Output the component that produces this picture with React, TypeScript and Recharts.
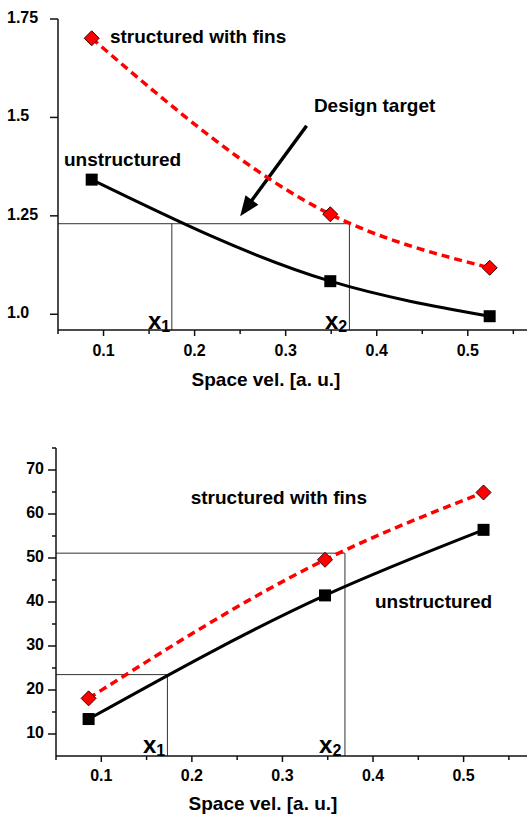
import React from 'react';
import { LineChart, Line, XAxis, YAxis, ReferenceLine, ReferenceDot } from 'recharts';

const FONT = '"Liberation Sans", Arial, sans-serif';
const AXIS = '#111';

// shared x axis
const xTicks = [0.05, 0.1, 0.15, 0.2, 0.25, 0.3, 0.35, 0.4, 0.45, 0.5, 0.55];

// top panel
const topX = [0.087, 0.349, 0.524];
const topFins = [1.701, 1.254, 1.118];
const topUnstructured = [1.342, 1.084, 0.995];
const topYTicks = [1.0, 1.25, 1.5, 1.75];
const topYLabels = ['1.0', '1.25', '1.5', '1.75'];
const topTarget = 1.23;
const topX1 = 0.175;
const topX2 = 0.37;

// bottom panel
const botX = [0.086, 0.347, 0.522];
const botFins = [18.1, 49.6, 64.9];
const botUnstructured = [13.4, 41.5, 56.4];
const botYTicks = [10, 15, 20, 25, 30, 35, 40, 45, 50, 55, 60, 65, 70, 75];
const botLow = 23.5;
const botHigh = 51.1;
const botX1 = 0.173;
const botX2 = 0.369;

const toPoints = (xs: number[], ys: number[]) => xs.map((x, i) => ({ x, y: ys[i] }));

const isMajorX = (v: number) => Math.abs(v * 10 - Math.round(v * 10)) < 1e-6;

const XTick = (props: any) => {
  const { x, y, payload, labelDy } = props;
  const major = isMajorX(payload.value);
  return (
    <g>
      <line x1={x} y1={y} x2={x} y2={y + (major ? 6 : 4)} stroke={AXIS} strokeWidth={1.5} />
      {major && (
        <text x={x} y={y + labelDy} textAnchor="middle" fontFamily={FONT} fontWeight="bold" fontSize={16} fill="#000">
          {payload.value.toFixed(1)}
        </text>
      )}
    </g>
  );
};

const YTick = (props: any) => {
  const { x, y, payload, labels, ticks, majors, anchor, dx } = props;
  const v = payload.value;
  const idx = ticks.indexOf(v);
  const major = majors(v);
  return (
    <g>
      <line x1={x} y1={y} x2={x - (major ? 8 : 4)} y2={y} stroke={AXIS} strokeWidth={1.5} />
      {major && (
        <text x={x + dx} y={y + 4} textAnchor={anchor} fontFamily={FONT} fontWeight="bold" fontSize={16} fill="#000">
          {labels ? labels[idx] : String(v)}
        </text>
      )}
    </g>
  );
};

const Diamond = (props: any) => {
  const { cx, cy, index } = props;
  const s = 7.5;
  return (
    <polygon
      key={`d-${index}`}
      points={`${cx},${cy - s} ${cx + s},${cy} ${cx},${cy + s} ${cx - s},${cy}`}
      fill="#ff0000"
      stroke="#3a0000"
      strokeWidth={1}
    />
  );
};

const Square = (props: any) => {
  const { cx, cy, index } = props;
  return <rect key={`s-${index}`} x={cx - 6} y={cy - 6} width={12} height={12} fill="#000" />;
};

const Arrow = (p: any) => {
  const { x1, y1, x2, y2 } = p;
  const dx = x2 - x1;
  const dy = y2 - y1;
  const len = Math.hypot(dx, dy);
  const ux = dx / len;
  const uy = dy / len;
  const head = 20;
  const half = 8;
  const bx = x2 - ux * head;
  const by = y2 - uy * head;
  return (
    <g>
      <line x1={x1} y1={y1} x2={bx + ux * 2} y2={by + uy * 2} stroke="#000" strokeWidth={3.5} />
      <polygon points={`${x2},${y2} ${bx - uy * half},${by + ux * half} ${bx + uy * half},${by - ux * half}`} fill="#000" />
    </g>
  );
};

const note = (text: string) => (p: any) => (
  <text x={p.viewBox.x} y={p.viewBox.y} fontFamily={FONT} fontWeight="bold" fontSize={19} fill="#000">
    {text}
  </text>
);

const sub = (n: string) => (p: any) => (
  <text x={p.viewBox.x} y={p.viewBox.y} fontFamily={FONT} fontWeight="bold" fill="#000">
    <tspan fontSize={24}>x</tspan>
    <tspan fontSize={16} dy={3}>{n}</tspan>
  </text>
);

const axisTitle = (dx: number, dy: number) => (p: any) => (
  <text x={p.viewBox.x + dx} y={p.viewBox.y + dy} textAnchor="middle" fontFamily={FONT} fontWeight="bold" fontSize={19} fill="#000">
    Space vel. [a. u.]
  </text>
);

const thin = { stroke: '#333', strokeWidth: 1 };

export default function App() {
  return (
    <div style={{ position: 'absolute', left: 0, top: 0, width: 527, height: 814, background: '#fff' }}>
      <div style={{ position: 'absolute', left: 0, top: 0 }}>
        <LineChart width={527} height={400} margin={{ top: 19, right: 0, bottom: 0, left: 0 }}>
          <XAxis
            dataKey="x"
            type="number"
            domain={[0.05, 0.565]}
            ticks={xTicks}
            interval={0}
            tickSize={0}
            tickMargin={0}
            tickLine={false}
            height={70}
            axisLine={{ stroke: AXIS, strokeWidth: 1.5 }}
            tick={<XTick labelDy={26} />}
            label={axisTitle(208, 56)}
          />
          <YAxis
            type="number"
            domain={[0.96, 1.75]}
            allowDataOverflow
            ticks={topYTicks}
            interval={0}
            tickSize={0}
            tickMargin={0}
            tickLine={false}
            width={58}
            axisLine={{ stroke: AXIS, strokeWidth: 1.5 }}
            tick={<YTick labels={topYLabels} ticks={topYTicks} majors={() => true} anchor="start" dx={-51} />}
          />
          <ReferenceLine segment={[{ x: 0.05, y: topTarget }, { x: topX2, y: topTarget }]} {...thin} />
          <ReferenceLine segment={[{ x: topX1, y: 0.96 }, { x: topX1, y: topTarget }]} {...thin} />
          <ReferenceLine segment={[{ x: topX2, y: 0.96 }, { x: topX2, y: topTarget }]} {...thin} />
          <ReferenceLine segment={[{ x: 0.323, y: 1.479 }, { x: 0.25, y: 1.249 }]} shape={Arrow} />
          <Line
            data={toPoints(topX, topFins)}
            dataKey="y"
            type="monotone"
            stroke="#ff0000"
            strokeWidth={3.5}
            strokeDasharray="8 5"
            dot={Diamond}
            isAnimationActive={false}
          />
          <Line
            data={toPoints(topX, topUnstructured)}
            dataKey="y"
            type="monotone"
            stroke="#000"
            strokeWidth={3}
            dot={Square}
            isAnimationActive={false}
          />
          <ReferenceDot x={0.107} y={1.688} r={0} fill="none" stroke="none" ifOverflow="visible" label={note('structured with fins')} />
          <ReferenceDot x={0.331} y={1.514} r={0} fill="none" stroke="none" ifOverflow="visible" label={note('Design target')} />
          <ReferenceDot x={0.0566} y={1.377} r={0} fill="none" stroke="none" ifOverflow="visible" label={note('unstructured')} />
          <ReferenceDot x={0.1488} y={0.9636} r={0} fill="none" stroke="none" ifOverflow="visible" label={sub('1')} />
          <ReferenceDot x={0.3432} y={0.9636} r={0} fill="none" stroke="none" ifOverflow="visible" label={sub('2')} />
        </LineChart>
      </div>
      <div style={{ position: 'absolute', left: 0, top: 420 }}>
        <LineChart width={527} height={394} margin={{ top: 28, right: 0, bottom: 0, left: 0 }}>
          <XAxis
            dataKey="x"
            type="number"
            domain={[0.05, 0.57]}
            ticks={xTicks}
            interval={0}
            tickSize={0}
            tickMargin={0}
            tickLine={false}
            height={58}
            axisLine={{ stroke: AXIS, strokeWidth: 1.5 }}
            tick={<XTick labelDy={25} />}
            label={axisTitle(207, 54)}
          />
          <YAxis
            type="number"
            domain={[5, 75]}
            allowDataOverflow
            ticks={botYTicks}
            interval={0}
            tickSize={0}
            tickMargin={0}
            tickLine={false}
            width={56}
            axisLine={{ stroke: AXIS, strokeWidth: 1.5 }}
            tick={<YTick ticks={botYTicks} majors={(v: number) => v % 10 === 0} anchor="end" dx={-12} />}
          />
          <ReferenceLine segment={[{ x: 0.05, y: botHigh }, { x: botX2, y: botHigh }]} {...thin} />
          <ReferenceLine segment={[{ x: botX2, y: 5 }, { x: botX2, y: botHigh }]} {...thin} />
          <ReferenceLine segment={[{ x: 0.05, y: botLow }, { x: botX1, y: botLow }]} {...thin} />
          <ReferenceLine segment={[{ x: botX1, y: 5 }, { x: botX1, y: botLow }]} {...thin} />
          <Line
            data={toPoints(botX, botFins)}
            dataKey="y"
            type="monotone"
            stroke="#ff0000"
            strokeWidth={3.5}
            strokeDasharray="8 5"
            dot={Diamond}
            isAnimationActive={false}
          />
          <Line
            data={toPoints(botX, botUnstructured)}
            dataKey="y"
            type="monotone"
            stroke="#000"
            strokeWidth={3}
            dot={Square}
            isAnimationActive={false}
          />
          <ReferenceDot x={0.1987} y={62.29} r={0} fill="none" stroke="none" ifOverflow="visible" label={note('structured with fins')} />
          <ReferenceDot x={0.4022} y={38.62} r={0} fill="none" stroke="none" ifOverflow="visible" label={note('unstructured')} />
          <ReferenceDot x={0.146} y={5.71} r={0} fill="none" stroke="none" ifOverflow="visible" label={sub('1')} />
          <ReferenceDot x={0.3404} y={5.71} r={0} fill="none" stroke="none" ifOverflow="visible" label={sub('2')} />
        </LineChart>
      </div>
    </div>
  );
}
